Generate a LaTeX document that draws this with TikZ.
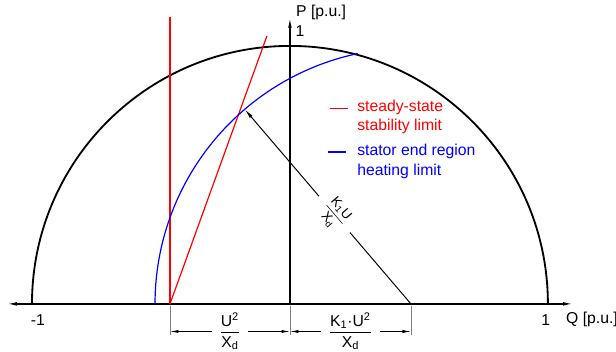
\documentclass[tikz,border=0pt]{standalone}
\usepackage{amsmath}
\usepackage{fontspec}
\setmainfont{Liberation Sans}
\usepackage{tikz}
\usetikzlibrary{arrows.meta}

\newcommand{\pufrac}[2]{$\dfrac{\mbox{#1}}{\mbox{#2}}$}

\tikzset{
    axisline/.style={line width=0.9pt},
    limitline/.style={line width=0.85pt},
    extline/.style={gray,line width=0.4pt},
    dimline/.style={line width=0.5pt,{Latex[length=6pt,width=2.2pt]}-{Latex[length=6pt,width=2.2pt]}},
    dimlabel/.style={fill=white,inner xsep=5pt,inner ysep=1pt}
}

\begin{document}
\begin{tikzpicture}[x=6.45cm,y=6.45cm,font=\fontsize{11.2}{14}\selectfont]
    \useasboundingbox (-1.124,-0.186) rectangle (1.264,1.178);

    % Points
    \coordinate (O) at (0,0);
    \coordinate (Qm) at (-1.097,0);
    \coordinate (Qp) at (1.097,0);
    \coordinate (Pp) at (0,1.109);
    \coordinate (S) at (-0.465,0);
    \coordinate (C) at (0.469,0);

    % Axes
    \draw[axisline,{Latex[length=7pt,width=2.6pt]}-{Latex[length=7pt,width=2.6pt]}] (Qm) -- (Qp);
    \draw[axisline,-{Latex[length=7pt,width=2.6pt]}] (O) -- (Pp);
    \node[anchor=west,inner sep=0] (plabel) at (0.023,1.128) {P [p.u.]};
    \node[inner sep=0] (pone) at (0.039,1.056) {1};
    \node[inner sep=0] (qmone) at (-0.977,-0.062) {-1};
    \node[inner sep=0] (qone) at (0.992,-0.062) {1};
    \node[anchor=west,inner sep=0] (qlabel) at (1.070,-0.062) {Q [p.u.]};

    % Capability circle
    \draw[line width=1.3pt] (-1,0) arc (180:0:1);

    % Stability limit
    \draw[red,limitline] (S) -- (-0.465,1.112);
    \draw[red,limitline] (S) -- (-0.089,1.039);

    % Heating limit
    \draw[blue,limitline] (C) ++(180:0.992) arc (180:102:0.992);
    \draw[line width=0.7pt,-{Latex[length=7pt,width=2.6pt]}] (C) -- ++(130.5:0.992)
        node[pos=0.46,sloped,dimlabel,inner xsep=7pt,font=\fontsize{9.5}{11}\selectfont] (radius) {\pufrac{K\textsubscript{1}U}{X\textsubscript{d}}};

    % Legend
    \draw[red,limitline] (0.155,0.757) -- (0.225,0.757);
    \node[anchor=west,inner sep=0,align=left,text=red] (redtext) at (0.260,0.725) {steady-state\\stability limit};
    \draw[blue,limitline] (0.148,0.589) -- (0.218,0.589);
    \node[anchor=west,inner sep=0,align=left,text=blue] (bluetext) at (0.260,0.552) {stator end region\\heating limit};

    % Dimensions
    \foreach \p in {S,O,C}
        \draw[extline] (\p) ++(0,-0.008) -- ++(0,-0.114);
    \draw[dimline] (-0.465,-0.107) -- (0,-0.107)
        node[midway,dimlabel] (dimone) {\pufrac{U\textsuperscript{2}}{X\textsubscript{d}}};
    \draw[dimline] (0,-0.107) -- (0.469,-0.107)
        node[midway,dimlabel] (dimtwo) {\pufrac{K\textsubscript{1}·U\textsuperscript{2}}{X\textsubscript{d}}};
\end{tikzpicture}
\end{document}
